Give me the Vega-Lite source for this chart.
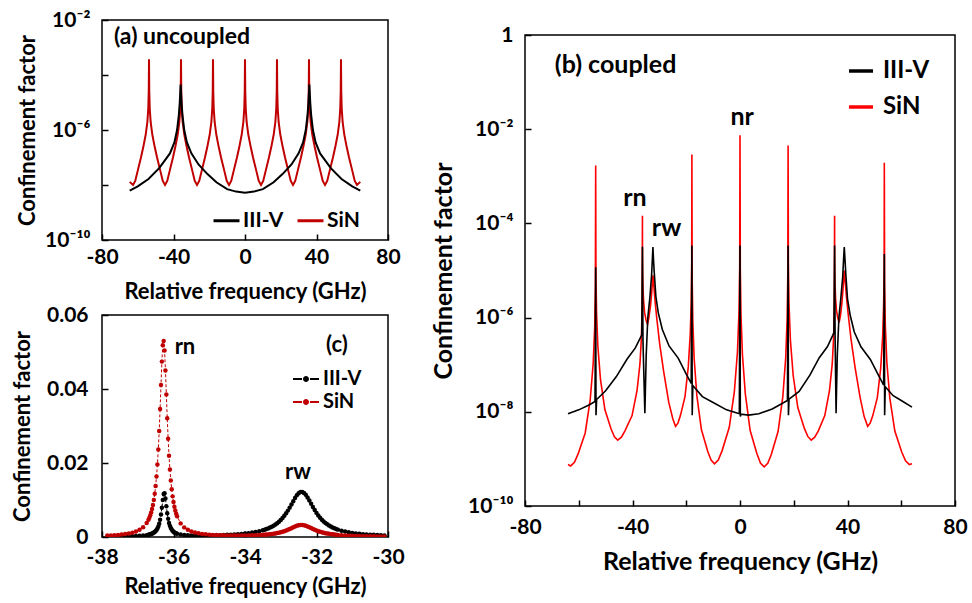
{
"$schema": "https://vega.github.io/schema/vega-lite/v6.json",
"background": "white",
"padding": {"left": 10, "top": 8, "right": 0, "bottom": 0},
"config": {
  "font": "Lato",
  "view": {"stroke": "#000000", "strokeWidth": 1.5},
  "axis": {"domain": false, "grid": false, "tickColor": "#000000", "tickWidth": 1.5, "tickSize": -6, "labelFont": "Lato", "labelFontWeight": "bold", "labelFontSize": 21, "labelColor": "#000000", "labelFlush": false, "labelOverlap": false, "labelBound": false, "titleFont": "Lato", "titleFontWeight": "bold", "titleFontSize": 22, "titleColor": "#000000"},
  "legend": {"labelFont": "Lato", "labelFontWeight": "bold", "labelFontSize": 21, "labelColor": "#000000"},
  "text": {"font": "Lato", "fontWeight": "bold", "fontSize": 22, "color": "#000000"}
},
"datasets": {
"a": [
{"s":"SiN","x":-64.5,"y":1.3e-8},{"s":"SiN","x":-62.65,"y":1e-8},
{"s":"SiN","x":-61.4,"y":1.41e-8},{"s":"SiN","x":-59.9,"y":3.55e-8},{"s":"SiN","x":-58.2,"y":1e-7},{"s":"SiN","x":-56.7,"y":2.8e-7},{"s":"SiN","x":-55.5,"y":7.1e-7},{"s":"SiN","x":-54.6,"y":2e-6},{"s":"SiN","x":-54.1,"y":6.3e-6},{"s":"SiN","x":-53.85,"y":2.5e-5},{"s":"SiN","x":-53.7,"y":3.7e-4},{"s":"SiN","x":-53.55,"y":2.5e-5},{"s":"SiN","x":-53.3,"y":6.3e-6},{"s":"SiN","x":-52.8,"y":2e-6},{"s":"SiN","x":-51.9,"y":7.1e-7},{"s":"SiN","x":-50.7,"y":2.8e-7},{"s":"SiN","x":-49.2,"y":1e-7},{"s":"SiN","x":-47.5,"y":3.55e-8},{"s":"SiN","x":-46.0,"y":1.41e-8},{"s":"SiN","x":-44.75,"y":1e-8},
{"s":"SiN","x":-43.5,"y":1.41e-8},{"s":"SiN","x":-42.0,"y":3.55e-8},{"s":"SiN","x":-40.3,"y":1e-7},{"s":"SiN","x":-38.8,"y":2.8e-7},{"s":"SiN","x":-37.6,"y":7.1e-7},{"s":"SiN","x":-36.7,"y":2e-6},{"s":"SiN","x":-36.2,"y":6.3e-6},{"s":"SiN","x":-35.95,"y":2.5e-5},{"s":"SiN","x":-35.8,"y":3.7e-4},{"s":"SiN","x":-35.65,"y":2.5e-5},{"s":"SiN","x":-35.4,"y":6.3e-6},{"s":"SiN","x":-34.9,"y":2e-6},{"s":"SiN","x":-34.0,"y":7.1e-7},{"s":"SiN","x":-32.8,"y":2.8e-7},{"s":"SiN","x":-31.3,"y":1e-7},{"s":"SiN","x":-29.6,"y":3.55e-8},{"s":"SiN","x":-28.1,"y":1.41e-8},{"s":"SiN","x":-26.85,"y":1e-8},
{"s":"SiN","x":-25.6,"y":1.41e-8},{"s":"SiN","x":-24.1,"y":3.55e-8},{"s":"SiN","x":-22.4,"y":1e-7},{"s":"SiN","x":-20.9,"y":2.8e-7},{"s":"SiN","x":-19.7,"y":7.1e-7},{"s":"SiN","x":-18.8,"y":2e-6},{"s":"SiN","x":-18.3,"y":6.3e-6},{"s":"SiN","x":-18.05,"y":2.5e-5},{"s":"SiN","x":-17.9,"y":3.7e-4},{"s":"SiN","x":-17.75,"y":2.5e-5},{"s":"SiN","x":-17.5,"y":6.3e-6},{"s":"SiN","x":-17.0,"y":2e-6},{"s":"SiN","x":-16.1,"y":7.1e-7},{"s":"SiN","x":-14.9,"y":2.8e-7},{"s":"SiN","x":-13.4,"y":1e-7},{"s":"SiN","x":-11.7,"y":3.55e-8},{"s":"SiN","x":-10.2,"y":1.41e-8},{"s":"SiN","x":-8.95,"y":1e-8},
{"s":"SiN","x":-7.7,"y":1.41e-8},{"s":"SiN","x":-6.2,"y":3.55e-8},{"s":"SiN","x":-4.5,"y":1e-7},{"s":"SiN","x":-3.0,"y":2.8e-7},{"s":"SiN","x":-1.8,"y":7.1e-7},{"s":"SiN","x":-0.9,"y":2e-6},{"s":"SiN","x":-0.4,"y":6.3e-6},{"s":"SiN","x":-0.15,"y":2.5e-5},{"s":"SiN","x":0,"y":3.7e-4},{"s":"SiN","x":0.15,"y":2.5e-5},{"s":"SiN","x":0.4,"y":6.3e-6},{"s":"SiN","x":0.9,"y":2e-6},{"s":"SiN","x":1.8,"y":7.1e-7},{"s":"SiN","x":3.0,"y":2.8e-7},{"s":"SiN","x":4.5,"y":1e-7},{"s":"SiN","x":6.2,"y":3.55e-8},{"s":"SiN","x":7.7,"y":1.41e-8},{"s":"SiN","x":8.95,"y":1e-8},
{"s":"SiN","x":10.2,"y":1.41e-8},{"s":"SiN","x":11.7,"y":3.55e-8},{"s":"SiN","x":13.4,"y":1e-7},{"s":"SiN","x":14.9,"y":2.8e-7},{"s":"SiN","x":16.1,"y":7.1e-7},{"s":"SiN","x":17.0,"y":2e-6},{"s":"SiN","x":17.5,"y":6.3e-6},{"s":"SiN","x":17.75,"y":2.5e-5},{"s":"SiN","x":17.9,"y":3.7e-4},{"s":"SiN","x":18.05,"y":2.5e-5},{"s":"SiN","x":18.3,"y":6.3e-6},{"s":"SiN","x":18.8,"y":2e-6},{"s":"SiN","x":19.7,"y":7.1e-7},{"s":"SiN","x":20.9,"y":2.8e-7},{"s":"SiN","x":22.4,"y":1e-7},{"s":"SiN","x":24.1,"y":3.55e-8},{"s":"SiN","x":25.6,"y":1.41e-8},{"s":"SiN","x":26.85,"y":1e-8},
{"s":"SiN","x":28.1,"y":1.41e-8},{"s":"SiN","x":29.6,"y":3.55e-8},{"s":"SiN","x":31.3,"y":1e-7},{"s":"SiN","x":32.8,"y":2.8e-7},{"s":"SiN","x":34.0,"y":7.1e-7},{"s":"SiN","x":34.9,"y":2e-6},{"s":"SiN","x":35.4,"y":6.3e-6},{"s":"SiN","x":35.65,"y":2.5e-5},{"s":"SiN","x":35.8,"y":3.7e-4},{"s":"SiN","x":35.95,"y":2.5e-5},{"s":"SiN","x":36.2,"y":6.3e-6},{"s":"SiN","x":36.7,"y":2e-6},{"s":"SiN","x":37.6,"y":7.1e-7},{"s":"SiN","x":38.8,"y":2.8e-7},{"s":"SiN","x":40.3,"y":1e-7},{"s":"SiN","x":42.0,"y":3.55e-8},{"s":"SiN","x":43.5,"y":1.41e-8},{"s":"SiN","x":44.75,"y":1e-8},
{"s":"SiN","x":46.0,"y":1.41e-8},{"s":"SiN","x":47.5,"y":3.55e-8},{"s":"SiN","x":49.2,"y":1e-7},{"s":"SiN","x":50.7,"y":2.8e-7},{"s":"SiN","x":51.9,"y":7.1e-7},{"s":"SiN","x":52.8,"y":2e-6},{"s":"SiN","x":53.3,"y":6.3e-6},{"s":"SiN","x":53.55,"y":2.5e-5},{"s":"SiN","x":53.7,"y":3.7e-4},{"s":"SiN","x":53.85,"y":2.5e-5},{"s":"SiN","x":54.1,"y":6.3e-6},{"s":"SiN","x":54.6,"y":2e-6},{"s":"SiN","x":55.5,"y":7.1e-7},{"s":"SiN","x":56.7,"y":2.8e-7},{"s":"SiN","x":58.2,"y":1e-7},{"s":"SiN","x":59.9,"y":3.55e-8},{"s":"SiN","x":61.4,"y":1.41e-8},{"s":"SiN","x":62.65,"y":1e-8},{"s":"SiN","x":64.5,"y":1.3e-8},
{"s":"III-V","x":-64.5,"y":6.3e-9},{"s":"III-V","x":-60,"y":8.9e-9},{"s":"III-V","x":-54,"y":1.66e-8},{"s":"III-V","x":-48,"y":4.1e-8},{"s":"III-V","x":-42,"y":1.41e-7},{"s":"III-V","x":-39.5,"y":3.55e-7},{"s":"III-V","x":-38,"y":1e-6},{"s":"III-V","x":-37,"y":3.55e-6},{"s":"III-V","x":-36.5,"y":1e-5},{"s":"III-V","x":-36,"y":4.47e-5},{"s":"III-V","x":-35.5,"y":1e-5},{"s":"III-V","x":-35,"y":3.55e-6},{"s":"III-V","x":-34,"y":1e-6},{"s":"III-V","x":-32.5,"y":3.55e-7},{"s":"III-V","x":-30,"y":1.41e-7},{"s":"III-V","x":-26,"y":5.6e-8},{"s":"III-V","x":-21,"y":2.5e-8},{"s":"III-V","x":-16,"y":1.26e-8},{"s":"III-V","x":-10,"y":7.1e-9},{"s":"III-V","x":-5,"y":5.75e-9},{"s":"III-V","x":0,"y":5.25e-9},{"s":"III-V","x":5,"y":5.75e-9},{"s":"III-V","x":10,"y":7.1e-9},{"s":"III-V","x":16,"y":1.26e-8},{"s":"III-V","x":21,"y":2.5e-8},{"s":"III-V","x":26,"y":5.6e-8},{"s":"III-V","x":30,"y":1.41e-7},{"s":"III-V","x":32.5,"y":3.55e-7},{"s":"III-V","x":34,"y":1e-6},{"s":"III-V","x":35,"y":3.55e-6},{"s":"III-V","x":35.5,"y":1e-5},{"s":"III-V","x":36,"y":4.47e-5},{"s":"III-V","x":36.5,"y":1e-5},{"s":"III-V","x":37,"y":3.55e-6},{"s":"III-V","x":38,"y":1e-6},{"s":"III-V","x":39.5,"y":3.55e-7},{"s":"III-V","x":42,"y":1.41e-7},{"s":"III-V","x":48,"y":4.1e-8},{"s":"III-V","x":54,"y":1.66e-8},{"s":"III-V","x":60,"y":8.9e-9},{"s":"III-V","x":64.5,"y":6.3e-9}
],
"b": [
{"s":"SiN","x":-64,"y":7.6e-10},{"s":"SiN","x":-63,"y":7.1e-10},{"s":"SiN","x":-61.6,"y":8.5e-10},{"s":"SiN","x":-60.2,"y":1.29e-9},{"s":"SiN","x":-57.6,"y":3.55e-9},{"s":"SiN","x":-55.75,"y":1.78e-8},{"s":"SiN","x":-54.63,"y":1.05e-7},{"s":"SiN","x":-54.07,"y":6e-7},{"s":"SiN","x":-53.81,"y":4.8e-6},{"s":"SiN","x":-53.7,"y":1.7e-3},{"s":"SiN","x":-53.6,"y":7.9e-6},{"s":"SiN","x":-53.37,"y":1.2e-6},{"s":"SiN","x":-52.88,"y":2.4e-7},{"s":"SiN","x":-51.9,"y":4.8e-8},{"s":"SiN","x":-50.26,"y":1.1e-8},{"s":"SiN","x":-47.96,"y":4.3e-9},{"s":"SiN","x":-46.73,"y":2.95e-9},{"s":"SiN","x":-45.5,"y":2.5e-9},{"s":"SiN","x":-44.12,"y":2.9e-9},{"s":"SiN","x":-42.86,"y":3.9e-9},{"s":"SiN","x":-40.16,"y":8.3e-9},{"s":"SiN","x":-38.32,"y":2.8e-8},{"s":"SiN","x":-37.22,"y":1.05e-7},{"s":"SiN","x":-36.67,"y":3.9e-7},{"s":"SiN","x":-36.41,"y":1.8e-6},{"s":"SiN","x":-36.3,"y":1.45e-4},{"s":"SiN","x":-36.28,"y":1.74e-5},{"s":"SiN","x":-36.22,"y":8.3e-6},{"s":"SiN","x":-36.11,"y":4.4e-6},{"s":"SiN","x":-35.88,"y":2.3e-6},{"s":"SiN","x":-35.5,"y":1.29e-6},{"s":"SiN","x":-34.97,"y":8.9e-7},{"s":"SiN","x":-34.4,"y":7.2e-7},{"s":"SiN","x":-33.9,"y":1e-6},{"s":"SiN","x":-33.3,"y":1.78e-6},{"s":"SiN","x":-32.9,"y":3.16e-6},{"s":"SiN","x":-32.6,"y":5.6e-6},{"s":"SiN","x":-32.4,"y":7.9e-6},{"s":"SiN","x":-32.1,"y":5e-6},{"s":"SiN","x":-31.6,"y":2.24e-6},{"s":"SiN","x":-30.9,"y":8.9e-7},{"s":"SiN","x":-29.9,"y":2.8e-7},{"s":"SiN","x":-28.4,"y":7.1e-8},{"s":"SiN","x":-26.5,"y":1.58e-8},{"s":"SiN","x":-25,"y":7.1e-9},{"s":"SiN","x":-24,"y":4.9e-9},{"s":"SiN","x":-23.09,"y":5.75e-9},{"s":"SiN","x":-22.17,"y":8.3e-9},{"s":"SiN","x":-20.46,"y":2.1e-8},{"s":"SiN","x":-19.24,"y":9.1e-8},{"s":"SiN","x":-18.51,"y":4.5e-7},{"s":"SiN","x":-18.14,"y":2.2e-6},{"s":"SiN","x":-17.97,"y":1.41e-5},{"s":"SiN","x":-17.9,"y":2.9e-3},{"s":"SiN","x":-17.8,"y":6.9e-6},{"s":"SiN","x":-17.56,"y":8.3e-7},{"s":"SiN","x":-17.06,"y":1.35e-7},{"s":"SiN","x":-16.05,"y":2.2e-8},{"s":"SiN","x":-14.37,"y":4.2e-9},{"s":"SiN","x":-12.02,"y":1.45e-9},{"s":"SiN","x":-10.76,"y":9.5e-10},{"s":"SiN","x":-9.5,"y":7.9e-10},{"s":"SiN","x":-8.08,"y":9.5e-10},{"s":"SiN","x":-6.65,"y":1.5e-9},{"s":"SiN","x":-3.99,"y":4.7e-9},{"s":"SiN","x":-2.09,"y":2.7e-8},{"s":"SiN","x":-0.95,"y":1.86e-7},{"s":"SiN","x":-0.38,"y":1.29e-6},{"s":"SiN","x":-0.114,"y":1.2e-5},{"s":"SiN","x":0,"y":7.4e-3},{"s":"SiN","x":0.108,"y":1.12e-5},{"s":"SiN","x":0.36,"y":1.17e-6},{"s":"SiN","x":0.9,"y":1.66e-7},{"s":"SiN","x":1.98,"y":2.4e-8},{"s":"SiN","x":3.78,"y":4e-9},{"s":"SiN","x":6.3,"y":1.29e-9},{"s":"SiN","x":7.65,"y":8.1e-10},{"s":"SiN","x":9,"y":6.8e-10},{"s":"SiN","x":10.34,"y":8.1e-10},{"s":"SiN","x":11.67,"y":1.26e-9},{"s":"SiN","x":14.16,"y":3.8e-9},{"s":"SiN","x":15.94,"y":2.1e-8},{"s":"SiN","x":17.01,"y":1.41e-7},{"s":"SiN","x":17.54,"y":9.3e-7},{"s":"SiN","x":17.79,"y":8.3e-6},{"s":"SiN","x":17.9,"y":4.5e-3},{"s":"SiN","x":18.0,"y":1.41e-5},{"s":"SiN","x":18.24,"y":1.86e-6},{"s":"SiN","x":18.76,"y":3.3e-7},{"s":"SiN","x":19.79,"y":5.9e-8},{"s":"SiN","x":21.51,"y":1.23e-8},{"s":"SiN","x":23.92,"y":4.5e-9},{"s":"SiN","x":25.21,"y":3e-9},{"s":"SiN","x":26.5,"y":2.5e-9},{"s":"SiN","x":27.8,"y":2.9e-9},{"s":"SiN","x":29.11,"y":3.9e-9},{"s":"SiN","x":31.55,"y":8.3e-9},{"s":"SiN","x":33.29,"y":2.8e-8},{"s":"SiN","x":34.33,"y":1.05e-7},{"s":"SiN","x":34.85,"y":3.9e-7},{"s":"SiN","x":35.1,"y":1.8e-6},{"s":"SiN","x":35.2,"y":1.45e-4},{"s":"SiN","x":35.22,"y":1.8e-5},{"s":"SiN","x":35.27,"y":8.7e-6},{"s":"SiN","x":35.37,"y":4.7e-6},{"s":"SiN","x":35.57,"y":2.5e-6},{"s":"SiN","x":35.91,"y":1.41e-6},{"s":"SiN","x":36.39,"y":9.8e-7},{"s":"SiN","x":36.9,"y":7.9e-7},{"s":"SiN","x":37.4,"y":1.12e-6},{"s":"SiN","x":37.9,"y":2e-6},{"s":"SiN","x":38.3,"y":3.8e-6},{"s":"SiN","x":38.6,"y":6.8e-6},{"s":"SiN","x":38.8,"y":1e-5},{"s":"SiN","x":39.1,"y":6.3e-6},{"s":"SiN","x":39.6,"y":2.8e-6},{"s":"SiN","x":40.3,"y":1.12e-6},{"s":"SiN","x":41.3,"y":3.55e-7},{"s":"SiN","x":42.8,"y":8.9e-8},{"s":"SiN","x":44.7,"y":2e-8},{"s":"SiN","x":46.2,"y":7.9e-9},{"s":"SiN","x":47.5,"y":4.9e-9},{"s":"SiN","x":48.43,"y":5.75e-9},{"s":"SiN","x":49.36,"y":8.1e-9},{"s":"SiN","x":51.1,"y":2e-8},{"s":"SiN","x":52.34,"y":8.3e-8},{"s":"SiN","x":53.08,"y":3.9e-7},{"s":"SiN","x":53.45,"y":1.86e-6},{"s":"SiN","x":53.63,"y":1.12e-5},{"s":"SiN","x":53.7,"y":1.95e-3},{"s":"SiN","x":53.81,"y":5.4e-6},{"s":"SiN","x":54.07,"y":6.8e-7},{"s":"SiN","x":54.63,"y":1.15e-7},{"s":"SiN","x":55.75,"y":1.95e-8},{"s":"SiN","x":57.61,"y":3.9e-9},{"s":"SiN","x":60.21,"y":1.38e-9},{"s":"SiN","x":61.6,"y":9.1e-10},{"s":"SiN","x":63,"y":7.6e-10},{"s":"SiN","x":64,"y":7.9e-10},
{"s":"III-V","x":-64,"y":9.1e-9},{"s":"III-V","x":-60,"y":1.1e-8},{"s":"III-V","x":-56,"y":1.41e-8},{"s":"III-V","x":-53.95,"y":1.66e-8},{"s":"III-V","x":-53.7,"y":1.17e-5},{"s":"III-V","x":-53.58,"y":8.5e-9},{"s":"III-V","x":-53.35,"y":1.82e-8},{"s":"III-V","x":-50,"y":2.8e-8},{"s":"III-V","x":-46,"y":5.6e-8},{"s":"III-V","x":-42,"y":1.32e-7},{"s":"III-V","x":-39,"y":2.24e-7},{"s":"III-V","x":-37,"y":3.8e-7},{"s":"III-V","x":-36.55,"y":4.3e-7},{"s":"III-V","x":-36.3,"y":3.2e-5},{"s":"III-V","x":-36.1,"y":3.2e-7},{"s":"III-V","x":-35.4,"y":9.3e-9},{"s":"III-V","x":-34.9,"y":1.58e-7},{"s":"III-V","x":-34.3,"y":1e-6},{"s":"III-V","x":-33.5,"y":2.8e-6},{"s":"III-V","x":-32.9,"y":7.9e-6},{"s":"III-V","x":-32.6,"y":1.78e-5},{"s":"III-V","x":-32.4,"y":3.16e-5},{"s":"III-V","x":-32.2,"y":1.78e-5},{"s":"III-V","x":-31.9,"y":8.9e-6},{"s":"III-V","x":-31.3,"y":2.8e-6},{"s":"III-V","x":-30.4,"y":1.26e-6},{"s":"III-V","x":-28.9,"y":5.6e-7},{"s":"III-V","x":-26.4,"y":2.5e-7},{"s":"III-V","x":-23,"y":1.38e-7},{"s":"III-V","x":-20,"y":6.3e-8},{"s":"III-V","x":-18.15,"y":4e-8},{"s":"III-V","x":-17.9,"y":3.4e-5},{"s":"III-V","x":-17.78,"y":8.5e-9},{"s":"III-V","x":-17.55,"y":3.6e-8},{"s":"III-V","x":-14,"y":2.1e-8},{"s":"III-V","x":-10,"y":1.58e-8},{"s":"III-V","x":-5,"y":1.1e-8},{"s":"III-V","x":-0.25,"y":9.1e-9},{"s":"III-V","x":0,"y":3.4e-5},{"s":"III-V","x":0.12,"y":7.9e-9},{"s":"III-V","x":0.35,"y":8.9e-9},{"s":"III-V","x":3.2,"y":8.5e-9},{"s":"III-V","x":7,"y":9.1e-9},{"s":"III-V","x":12,"y":1.15e-8},{"s":"III-V","x":17.65,"y":1.74e-8},{"s":"III-V","x":17.9,"y":3.4e-5},{"s":"III-V","x":18.02,"y":8.5e-9},{"s":"III-V","x":18.25,"y":1.86e-8},{"s":"III-V","x":22,"y":2.7e-8},{"s":"III-V","x":26,"y":6e-8},{"s":"III-V","x":29.5,"y":1.41e-7},{"s":"III-V","x":32.5,"y":2.4e-7},{"s":"III-V","x":34.5,"y":4.2e-7},{"s":"III-V","x":34.95,"y":4.8e-7},{"s":"III-V","x":35.2,"y":3.4e-5},{"s":"III-V","x":35.4,"y":3.2e-7},{"s":"III-V","x":35.75,"y":9.3e-9},{"s":"III-V","x":36.2,"y":1.58e-7},{"s":"III-V","x":36.8,"y":1e-6},{"s":"III-V","x":37.5,"y":2.5e-6},{"s":"III-V","x":38.2,"y":7.1e-6},{"s":"III-V","x":38.55,"y":1.78e-5},{"s":"III-V","x":38.8,"y":3.16e-5},{"s":"III-V","x":39.05,"y":1.78e-5},{"s":"III-V","x":39.4,"y":7.9e-6},{"s":"III-V","x":40,"y":2.5e-6},{"s":"III-V","x":41,"y":1.12e-6},{"s":"III-V","x":42.5,"y":5e-7},{"s":"III-V","x":45,"y":2.4e-7},{"s":"III-V","x":48.5,"y":1.29e-7},{"s":"III-V","x":51.5,"y":6e-8},{"s":"III-V","x":53.45,"y":3.7e-8},{"s":"III-V","x":53.7,"y":2.24e-5},{"s":"III-V","x":53.82,"y":8.5e-9},{"s":"III-V","x":54.05,"y":3.4e-8},{"s":"III-V","x":57,"y":2.2e-8},{"s":"III-V","x":60,"y":1.74e-8},{"s":"III-V","x":64,"y":1.26e-8}
],
"c": [
{"x":-37.85,"III-V":0.00012,"SiN":0.00038},{"x":-37.75,"III-V":0.00013,"SiN":0.00043},{"x":-37.65,"III-V":0.00014,"SiN":0.0005},{"x":-37.55,"III-V":0.00015,"SiN":0.00057},{"x":-37.45,"III-V":0.00016,"SiN":0.00067},{"x":-37.35,"III-V":0.00018,"SiN":0.0008},{"x":-37.25,"III-V":0.0002,"SiN":0.00096},{"x":-37.15,"III-V":0.00022,"SiN":0.00118},{"x":-37.05,"III-V":0.00026,"SiN":0.0015},{"x":-36.95,"III-V":0.00031,"SiN":0.00194},{"x":-36.85,"III-V":0.00038,"SiN":0.00265},{"x":-36.75,"III-V":0.0005,"SiN":0.0038},
{"x":-36.7,"III-V":0.00061,"SiN":0.00467},{"x":-36.675,"III-V":0.00066,"SiN":0.00522},{"x":-36.65,"III-V":0.00073,"SiN":0.00586},{"x":-36.625,"III-V":0.00082,"SiN":0.00663},{"x":-36.6,"III-V":0.00092,"SiN":0.00755},{"x":-36.575,"III-V":0.00104,"SiN":0.00866},{"x":-36.55,"III-V":0.00119,"SiN":0.01002},{"x":-36.525,"III-V":0.00137,"SiN":0.0117},{"x":-36.5,"III-V":0.0016,"SiN":0.01376},{"x":-36.475,"III-V":0.00191,"SiN":0.01635},{"x":-36.45,"III-V":0.00232,"SiN":0.0196},{"x":-36.425,"III-V":0.00287,"SiN":0.02366},{"x":-36.4,"III-V":0.0036,"SiN":0.02866},{"x":-36.375,"III-V":0.00464,"SiN":0.0346},{"x":-36.35,"III-V":0.00606,"SiN":0.0411},{"x":-36.325,"III-V":0.00792,"SiN":0.0474},{"x":-36.3,"III-V":0.01002,"SiN":0.0518},{"x":-36.275,"III-V":0.01164,"SiN":0.053},{"x":-36.25,"III-V":0.01182,"SiN":0.0504},{"x":-36.225,"III-V":0.01042,"SiN":0.045},{"x":-36.2,"III-V":0.00834,"SiN":0.0385},{"x":-36.175,"III-V":0.00641,"SiN":0.0321},{"x":-36.15,"III-V":0.0049,"SiN":0.02655},{"x":-36.125,"III-V":0.0038,"SiN":0.02193},{"x":-36.1,"III-V":0.00301,"SiN":0.01822},{"x":-36.075,"III-V":0.00243,"SiN":0.01525},{"x":-36.05,"III-V":0.002,"SiN":0.01288},{"x":-36.025,"III-V":0.00168,"SiN":0.01098},{"x":-36.0,"III-V":0.00143,"SiN":0.00945},{"x":-35.975,"III-V":0.00125,"SiN":0.0082},{"x":-35.95,"III-V":0.0011,"SiN":0.00717},{"x":-35.925,"III-V":0.00098,"SiN":0.00631},{"x":-35.9,"III-V":0.00089,"SiN":0.00561},
{"x":-35.8,"III-V":0.00065,"SiN":0.00368},{"x":-35.7,"III-V":0.00052,"SiN":0.0026},{"x":-35.6,"III-V":0.00046,"SiN":0.00193},{"x":-35.5,"III-V":0.00042,"SiN":0.0015},{"x":-35.4,"III-V":0.0004,"SiN":0.0012},{"x":-35.3,"III-V":0.00039,"SiN":0.00099},{"x":-35.2,"III-V":0.0004,"SiN":0.00084},{"x":-35.1,"III-V":0.0004,"SiN":0.00072},{"x":-35.0,"III-V":0.00042,"SiN":0.00064},{"x":-34.9,"III-V":0.00044,"SiN":0.00057},{"x":-34.8,"III-V":0.00047,"SiN":0.00052},{"x":-34.7,"III-V":0.0005,"SiN":0.00048},{"x":-34.6,"III-V":0.00053,"SiN":0.00045},{"x":-34.5,"III-V":0.00058,"SiN":0.00042},{"x":-34.4,"III-V":0.00062,"SiN":0.00041},{"x":-34.3,"III-V":0.00069,"SiN":0.0004},{"x":-34.2,"III-V":0.00076,"SiN":0.0004},{"x":-34.1,"III-V":0.00084,"SiN":0.0004},{"x":-34.0,"III-V":0.00093,"SiN":0.00041},{"x":-33.9,"III-V":0.00105,"SiN":0.00043},{"x":-33.8,"III-V":0.00119,"SiN":0.00045},{"x":-33.7,"III-V":0.00136,"SiN":0.00049},{"x":-33.6,"III-V":0.00157,"SiN":0.00053},
{"x":-33.5,"III-V":0.00182,"SiN":0.00059},{"x":-33.45,"III-V":0.00197,"SiN":0.00062},{"x":-33.4,"III-V":0.00214,"SiN":0.00066},{"x":-33.35,"III-V":0.00233,"SiN":0.00071},{"x":-33.3,"III-V":0.00254,"SiN":0.00076},{"x":-33.25,"III-V":0.00279,"SiN":0.00082},{"x":-33.2,"III-V":0.00306,"SiN":0.00089},{"x":-33.15,"III-V":0.00337,"SiN":0.00097},{"x":-33.1,"III-V":0.00373,"SiN":0.00106},{"x":-33.05,"III-V":0.00413,"SiN":0.00117},{"x":-33.0,"III-V":0.0046,"SiN":0.00128},{"x":-32.95,"III-V":0.00512,"SiN":0.00142},{"x":-32.9,"III-V":0.00572,"SiN":0.00158},{"x":-32.85,"III-V":0.00639,"SiN":0.00175},{"x":-32.8,"III-V":0.00713,"SiN":0.00194},{"x":-32.75,"III-V":0.00794,"SiN":0.00215},{"x":-32.7,"III-V":0.0088,"SiN":0.00238},{"x":-32.65,"III-V":0.00968,"SiN":0.00261},{"x":-32.6,"III-V":0.01052,"SiN":0.00283},{"x":-32.55,"III-V":0.01126,"SiN":0.00302},{"x":-32.5,"III-V":0.01183,"SiN":0.00316},{"x":-32.45,"III-V":0.01215,"SiN":0.00325},{"x":-32.4,"III-V":0.01218,"SiN":0.00325},{"x":-32.35,"III-V":0.01191,"SiN":0.00318},{"x":-32.3,"III-V":0.01139,"SiN":0.00305},{"x":-32.25,"III-V":0.01068,"SiN":0.00286},{"x":-32.2,"III-V":0.00985,"SiN":0.00264},{"x":-32.15,"III-V":0.00897,"SiN":0.00241},{"x":-32.1,"III-V":0.0081,"SiN":0.00218},{"x":-32.05,"III-V":0.00728,"SiN":0.00196},{"x":-32.0,"III-V":0.00652,"SiN":0.00176},{"x":-31.95,"III-V":0.00584,"SiN":0.00158},{"x":-31.9,"III-V":0.00522,"SiN":0.00142},{"x":-31.85,"III-V":0.00469,"SiN":0.00128},{"x":-31.8,"III-V":0.00421,"SiN":0.00115},{"x":-31.75,"III-V":0.00379,"SiN":0.00104},{"x":-31.7,"III-V":0.00343,"SiN":0.00094},{"x":-31.65,"III-V":0.00311,"SiN":0.00086},{"x":-31.6,"III-V":0.00282,"SiN":0.00078},{"x":-31.55,"III-V":0.00258,"SiN":0.00072},{"x":-31.5,"III-V":0.00236,"SiN":0.00066},{"x":-31.45,"III-V":0.00216,"SiN":0.00061},{"x":-31.4,"III-V":0.00199,"SiN":0.00056},
{"x":-31.3,"III-V":0.0017,"SiN":0.00048},{"x":-31.2,"III-V":0.00146,"SiN":0.00042},{"x":-31.1,"III-V":0.00127,"SiN":0.00037},{"x":-31.0,"III-V":0.00111,"SiN":0.00032},{"x":-30.9,"III-V":0.00098,"SiN":0.00029},{"x":-30.8,"III-V":0.00087,"SiN":0.00026},{"x":-30.7,"III-V":0.00078,"SiN":0.00023},{"x":-30.6,"III-V":0.0007,"SiN":0.00021},{"x":-30.5,"III-V":0.00064,"SiN":0.00019},{"x":-30.4,"III-V":0.00058,"SiN":0.00018},{"x":-30.3,"III-V":0.00053,"SiN":0.00016},{"x":-30.2,"III-V":0.00048,"SiN":0.00015},{"x":-30.1,"III-V":0.00044,"SiN":0.00014}
]
},
"spacing": 25,
"resolve": {"scale": {"color": "independent"}},
"hconcat": [
 {
  "spacing": 0,
  "resolve": {"scale": {"color": "independent"}},
  "vconcat": [
   {
    "width": 286, "height": 220,
    "layer": [
     {
      "data": {"name": "a"},
      "mark": {"type": "line", "strokeWidth": 2, "clip": true},
      "encoding": {
       "x": {"field": "x", "type": "quantitative", "scale": {"domain": [-80, 80], "nice": false, "zero": false},
             "axis": {"values": [-80,-60,-40,-20,0,20,40,60,80], "labelExpr": "datum.value % 40 == 0 ? '' + datum.value : ''", "title": "Relative frequency (GHz)", "labelPadding": 12, "titlePadding": 14}},
       "y": {"field": "y", "type": "quantitative", "scale": {"type": "log", "domain": [1e-10, 1e-2], "nice": false},
             "axis": {"values": [1e-10,1e-8,1e-6,1e-4,1e-2], "labelExpr": "datum.value > 0.005 ? '10⁻²' : datum.value > 5e-5 ? '' : datum.value > 5e-7 ? '10⁻⁶' : datum.value > 5e-9 ? '' : '10⁻¹⁰'", "title": "Confinement factor", "labelPadding": 18, "titlePadding": 5}},
       "color": {"field": "s", "type": "nominal", "scale": {"domain": ["III-V", "SiN"], "range": ["#000000", "#c00000"]},
                 "legend": {"title": null, "orient": "none", "legendX": 110, "legendY": 186, "direction": "horizontal", "symbolType": "stroke", "symbolStrokeWidth": 3, "symbolSize": 676, "labelOffset": 2, "columnPadding": 7}}
      }
     },
     {
      "data": {"values": [{"x": -35.2, "y": 0.0024, "t": "(a) uncoupled"}]},
      "mark": {"type": "text", "align": "center", "baseline": "middle", "fontSize": 23},
      "encoding": {"x": {"field": "x", "type": "quantitative"}, "y": {"field": "y", "type": "quantitative"}, "text": {"field": "t"}}
     }
    ]
   },
   {
    "width": 286, "height": 222,
    "layer": [
     {
      "data": {"name": "c"},
      "transform": [{"fold": ["III-V", "SiN"], "as": ["s", "y"]}],
      "mark": {"type": "line", "strokeWidth": 1, "strokeDash": [3, 2], "clip": true},
      "encoding": {
       "x": {"field": "x", "type": "quantitative", "scale": {"domain": [-38, -30], "nice": false, "zero": false},
             "axis": {"values": [-38,-36,-34,-32,-30], "labelExpr": "'' + datum.value", "title": "Relative frequency (GHz)", "labelPadding": 15, "titlePadding": 9}},
       "y": {"field": "y", "type": "quantitative", "scale": {"domain": [0, 0.06], "nice": false},
             "axis": {"values": [0, 0.02, 0.04, 0.06], "labelExpr": "datum.value == 0 ? '0' : format(datum.value, '.2f')", "title": "Confinement factor", "labelPadding": 20, "titlePadding": 12}},
       "color": {"field": "s", "type": "nominal", "scale": {"domain": ["III-V", "SiN"], "range": ["#000000", "#c00000"]},
                 "legend": {"title": null, "orient": "none", "legendX": 194, "legendY": 54, "direction": "vertical", "symbolType": "M-1.3,-0.09H-0.4V0.09H-1.3Z M0.4,-0.09H1.3V0.09H0.4Z M-0.3,0A0.3,0.3 0 1,1 0.3,0A0.3,0.3 0 1,1 -0.3,0Z", "symbolSize": 400, "symbolStrokeWidth": 0, "labelOffset": 7, "rowPadding": 3, "labelFontSize": 20,
                            "encode": {"symbols": {"update": {"fill": {"signal": "datum.value == 'SiN' ? '#c00000' : '#000000'"}, "opacity": {"value": 1}, "strokeWidth": {"value": 0}}}}}}
      }
     },
     {
      "data": {"name": "c"},
      "transform": [{"fold": ["III-V", "SiN"], "as": ["s", "y"]}],
      "mark": {"type": "point", "filled": true, "opacity": 1, "size": 20, "clip": true},
      "encoding": {
       "x": {"field": "x", "type": "quantitative"},
       "y": {"field": "y", "type": "quantitative"},
       "color": {"field": "s", "type": "nominal"},
       "order": {"field": "s", "sort": "ascending"}
      }
     },
     {
      "data": {"values": [{"x": -31.43, "y": 0.0519, "t": "(c)"}, {"x": -35.68, "y": 0.0514, "t": "rn"}, {"x": -32.52, "y": 0.0176, "t": "rw"}]},
      "mark": {"type": "text", "align": "center", "baseline": "middle", "fontSize": 22},
      "encoding": {"x": {"field": "x", "type": "quantitative"}, "y": {"field": "y", "type": "quantitative"}, "text": {"field": "t"}}
     }
    ]
   }
  ]
 },
 {
  "spacing": 0,
  "resolve": {"scale": {"color": "independent"}},
  "vconcat": [
   {
    "width": 430, "height": 3,
    "view": {"stroke": null},
    "data": {"values": [{"k": 1}]},
    "mark": {"type": "point", "opacity": 0, "size": 1},
    "encoding": {}
   },
   {
    "width": 430, "height": 471,
    "layer": [
     {
      "data": {"name": "b"},
      "mark": {"type": "line", "strokeWidth": 1.6, "clip": true},
      "encoding": {
       "x": {"field": "x", "type": "quantitative", "scale": {"domain": [-80, 80], "nice": false, "zero": false},
             "axis": {"values": [-80,-60,-40,-20,0,20,40,60,80], "labelExpr": "datum.value % 40 == 0 ? '' + datum.value : ''", "title": "Relative frequency (GHz)", "titleFontSize": 25, "labelPadding": 16, "titlePadding": 12}},
       "y": {"field": "y", "type": "quantitative", "scale": {"type": "log", "domain": [1e-10, 1], "nice": false},
             "axis": {"values": [1e-10,1e-8,1e-6,1e-4,1e-2,1], "labelExpr": "datum.value > 0.5 ? '1' : datum.value > 5e-3 ? '10⁻²' : datum.value > 5e-5 ? '10⁻⁴' : datum.value > 5e-7 ? '10⁻⁶' : datum.value > 5e-9 ? '10⁻⁸' : '10⁻¹⁰'", "title": "Confinement factor", "titleFontSize": 25, "labelPadding": 18, "titlePadding": 11}},
       "color": {"field": "s", "type": "nominal", "scale": {"domain": ["III-V", "SiN"], "range": ["#000000", "#ff0000"]},
                 "legend": {"title": null, "orient": "none", "legendX": 322, "legendY": 22, "direction": "vertical", "symbolType": "stroke", "symbolStrokeWidth": 3.5, "symbolSize": 576, "labelFontSize": 24, "rowPadding": 10, "labelOffset": 8}}
      }
     },
     {
      "data": {"values": [{"x": -46.3, "y": 0.23, "t": "(b) coupled"}, {"x": 0.8, "y": 0.0185, "t": "nr"}, {"x": -39.1, "y": 0.00035, "t": "rn"}, {"x": -27.35, "y": 0.00008, "t": "rw"}]},
      "mark": {"type": "text", "align": "center", "baseline": "middle", "fontSize": 25},
      "encoding": {"x": {"field": "x", "type": "quantitative"}, "y": {"field": "y", "type": "quantitative"}, "text": {"field": "t"}}
     }
    ]
   }
  ]
 }
]
}
